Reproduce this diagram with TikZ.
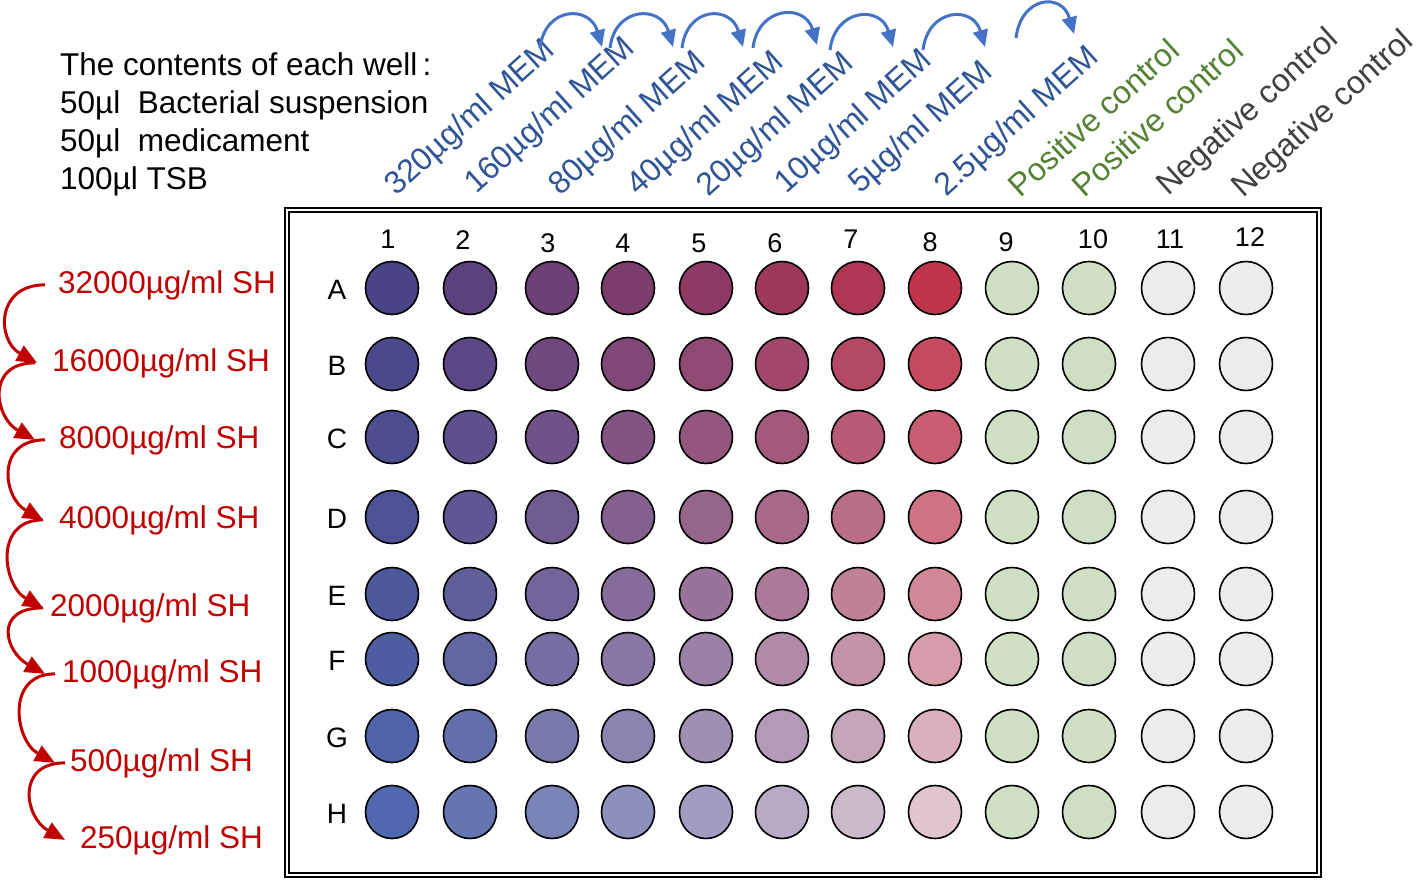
\documentclass[tikz,border=0pt]{standalone}
\usepackage{fontspec}
\setmainfont{Liberation Sans}
\usetikzlibrary{arrows.meta}

\definecolor{memblue}{RGB}{47,85,151}
\definecolor{arcblue}{RGB}{68,114,196}
\definecolor{shred}{RGB}{192,0,0}
\definecolor{posgreen}{RGB}{84,130,53}
\definecolor{neggray}{RGB}{64,64,64}
\definecolor{posfill}{RGB}{207,223,196}
\definecolor{negfill}{RGB}{236,236,236}

\tikzset{
  headtext/.style={font=\fontsize{31.5}{38}\selectfont, align=left, inner sep=0pt},
  conclabel/.style={font=\fontsize{32}{36}\selectfont, rotate=42, anchor=base west, inner sep=0pt},
  shlabel/.style={font=\fontsize{31.5}{36}\selectfont, text=shred, anchor=base west, inner sep=0pt},
  rowlabel/.style={font=\fontsize{28}{32}\selectfont, inner sep=0pt},
  collabel/.style={font=\fontsize{27}{32}\selectfont, anchor=base, inner sep=0pt},
  well/.style={circle, draw=black, line width=1.6pt, minimum size=53pt, inner sep=0pt},
  platebox/.style={draw=black, double=white, double distance=1.5pt, line width=1.8pt,
    minimum width=1032pt, minimum height=665pt, inner sep=0pt},
  redarrow/.style={draw=shred, line width=3pt, -{Triangle[length=20pt,width=17pt]}},
  bluearrow/.style={draw=arcblue, line width=3pt, -{Triangle[length=17pt,width=15pt]}},
}

\begin{document}
\begin{tikzpicture}[x=1pt, y=-1pt]
  \useasboundingbox (0,0) rectangle (1417,880);

  % Contents of each well
  \node[headtext, anchor=north west] (contents) at (60,52)
    {The contents of each well\,:\\50µl\ \ Bacterial suspension\\50µl\ \ medicament\\100µl TSB};

  % Plate
  \node[platebox] (plate) at (803,542.5) {};

  % Column numbers
  \foreach \cx/\cy [count=\c] in {388/248,463/249,548/252,623/252,699/252,775/252,
      851/248,930/251,1006/251,1093/248,1170/248,1250/246}
    \node[collabel] (col\c) at (\cx,\cy) {\c};

  % Wells
  \foreach \ry/\rl [count=\r from 0] in {288/A,364/B,437/C,517/D,594/E,659/F,736/G,812/H} {
    \node[rowlabel] (row\rl) at (337,\ry+2) {\rl};
    \foreach \cx [count=\c from 0] in {392,470,552,628,706,782,858,935,1012,1089,1168,1246} {
      \ifnum\c<8
        \pgfmathtruncatemacro\Rv{round((1-\r/7)*((1-\c/7)*74+\c/7*192)+\r/7*((1-\c/7)*80+\c/7*224))}
        \pgfmathtruncatemacro\Gv{round((1-\r/7)*((1-\c/7)*67+\c/7*52)+\r/7*((1-\c/7)*104+\c/7*197))}
        \pgfmathtruncatemacro\Bv{round((1-\r/7)*((1-\c/7)*133+\c/7*76)+\r/7*((1-\c/7)*173+\c/7*207))}
        \definecolor{wellfill}{RGB}{\Rv,\Gv,\Bv}
      \else
        \ifnum\c<10 \colorlet{wellfill}{posfill}\else \colorlet{wellfill}{negfill}\fi
      \fi
      \node[well, fill=wellfill] (w\rl\c) at (\cx,\ry) {};
    }
  }

  % Concentrations of MEM and controls
  \node[conclabel, text=memblue] (mem1) at (396,197) {320µg/ml MEM};
  \node[conclabel, text=memblue] (mem2) at (476,195) {160µg/ml MEM};
  \node[conclabel, text=memblue] (mem3) at (560,197) {80µg/ml MEM};
  \node[conclabel, text=memblue] (mem4) at (638,197) {40µg/ml MEM};
  \node[conclabel, text=memblue] (mem5) at (708,198) {20µg/ml MEM};
  \node[conclabel, text=memblue] (mem6) at (786,195) {10µg/ml MEM};
  \node[conclabel, text=memblue] (mem7) at (860,195) {5µg/ml MEM};
  \node[conclabel, text=memblue] (mem8) at (946,198) {2.5µg/ml MEM};
  \node[conclabel, text=posgreen] (pos1) at (1020,199) {Positive control};
  \node[conclabel, text=posgreen] (pos2) at (1084,199) {Positive control};
  \node[conclabel, text=neggray] (neg1) at (1168,197) {Negative control};
  \node[conclabel, text=neggray] (neg2) at (1243,199) {Negative control};

  % Dilution arcs of MEM
  \foreach \sx/\sy/\tx/\ty [count=\i] in {540/48/602/47, 610/48/673/47, 682/48/743/47,
      753/48/817/45, 830/50/893/47, 923/50/985/47, 1016/38/1074/34} {
    \coordinate (arcs\i) at (\sx,\sy);
    \coordinate (arct\i) at (\tx,\ty);
    \draw[bluearrow] (arcs\i) .. controls +(5,-42) and +(-12,-42) .. (arct\i);
  }

  % Concentrations of SH
  \node[shlabel] (sh1) at (58,293) {32000µg/ml SH};
  \node[shlabel] (sh2) at (52,371) {16000µg/ml SH};
  \node[shlabel] (sh3) at (59,448) {8000µg/ml SH};
  \node[shlabel] (sh4) at (59,528) {4000µg/ml SH};
  \node[shlabel] (sh5) at (50,616) {2000µg/ml SH};
  \node[shlabel] (sh6) at (62,682) {1000µg/ml SH};
  \node[shlabel] (sh7) at (70,771) {500µg/ml SH};
  \node[shlabel] (sh8) at (80,848) {250µg/ml SH};

  % Dilution arrows of SH
  \foreach \a/\b/\sa/\sb in {1/2/13/15, 2/3/17/24, 3/4/14/16, 4/5/16/7,
      5/6/7/17, 6/7/7/15, 7/8/5/15}
    \draw[redarrow] ([xshift=-\sa pt]sh\a.west) .. controls +(-50,0) and +(-40,-22)
      .. ([xshift=-\sb pt]sh\b.west);
\end{tikzpicture}
\end{document}
